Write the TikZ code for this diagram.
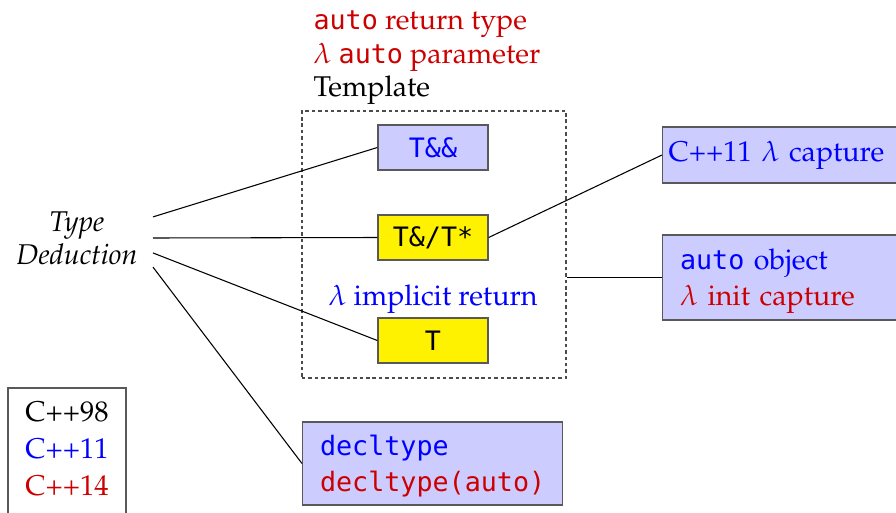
\documentclass[tikz,border=0pt]{standalone}
\usepackage{fontspec}
\newfontfamily\codefont[Scale=0.935]{DejaVu Sans Mono}
\usepackage[T1]{fontenc}
\usepackage{mathpazo}
\usepackage{tikz}
\usetikzlibrary{positioning}
\usetikzlibrary{fit}
\definecolor{cppblue}{RGB}{0,0,255}
\definecolor{cppred}{RGB}{204,0,0}
\definecolor{boxfill}{RGB}{204,204,255}
\newcommand{\code}[1]{{\codefont #1}}
\newcommand{\textsize}{\fontsize{10.7pt}{12.5pt}\selectfont}
\tikzset{conn/.style = {draw=black, line width=0.4pt},
         boxline/.style = {draw=black!65, line width=0.5pt},
         formbox/.style = {boxline, minimum width=41.2pt, minimum height=16.9pt, inner sep=0pt},
         refbox/.style = {formbox, fill=boxfill, text=cppblue},
         valbox/.style = {formbox, fill=yellow},
         sidebox/.style = {boxline, fill=boxfill, anchor=west, align=left}}

\begin{document}
\begin{tikzpicture}[x=0.3745pt, y=-0.3745pt, font=\textsize]
        \useasboundingbox (0,0) rectangle (896,513);
        \node (td) [anchor=east, align=center, inner xsep=5.6pt, font=\textsize\itshape] at (153,238) {Type\\Deduction};
        \node (head) [anchor=west, align=left, inner sep=0pt] at (313,58)
              {\textcolor{cppred}{\code{auto} return type}\\
               \textcolor{cppred}{$\lambda$ \code{auto} parameter}\\
               Template};
        \node (tmpl) [draw=black!70, dash pattern=on 1.3pt off 1.1pt, line width=0.45pt, inner sep=0pt, fit={(302,111) (566,378)}] {};
        \node (tref) [refbox] at (433,147.5) {\code{T\&\&}};
        \node (tptr) [valbox] at (433,237.5) {\code{T\&/T*}};
        \node (impl) [text=cppblue, inner sep=0pt] at (433,299) {$\lambda$ implicit return};
        \node (tval) [valbox] at (433,340.5) {\code{T}};
        \node (capt) [sidebox, text width=93pt, inner xsep=2.2pt, minimum height=21pt] at (662,155)
              {\textcolor{cppblue}{C++11 $\lambda$ capture}};
        \node (obj) [sidebox, text width=86pt, inner sep=0pt, inner xsep=6.5pt, minimum height=31.8pt] at (662,277.5)
              {\textcolor{cppblue}{\code{auto} object}\\[1pt]
               \smash{\textcolor{cppred}{$\lambda$ init capture}}};
        \node (dtype) [sidebox, inner xsep=6.5pt, inner ysep=0pt, minimum height=31.1pt] at (302,463.5)
              {\textcolor{cppblue}{\code{decltype}}\\[1pt]
               \smash{\textcolor{cppred}{\code{decltype(auto)}}}};
        \node (legend) [align=center, inner sep=0pt] at (67,449)
              {C++98\\[1.5pt] \textcolor{cppblue}{C++11}\\[1.5pt] \textcolor{cppred}{C++14}};
        \draw[boxline] (8,388) rectangle (126,540);
        \draw[conn] ([yshift=7.9pt]td.east) -- (tref.west);
        \draw[conn] (td.east) -- (tptr.west);
        \draw[conn] ([yshift=-5.6pt]td.east) -- (tval.west);
        \draw[conn] ([yshift=-10.9pt]td.east) -- (dtype.west);
        \draw[conn] (tptr.east) -- (capt.west);
        \draw[conn] (obj.west) -- (obj.west -| tmpl.east);
    \end{tikzpicture}
\end{document}
